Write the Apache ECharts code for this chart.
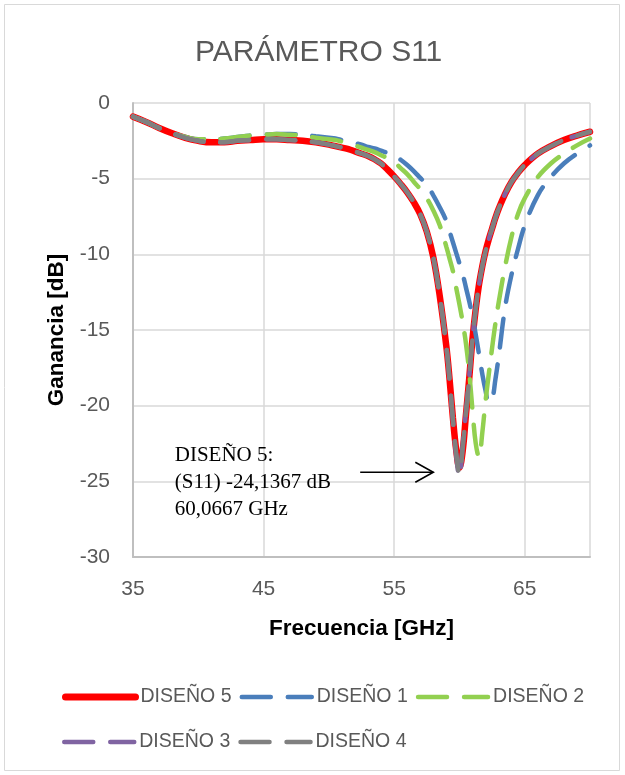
<!DOCTYPE html>
<html>
<head>
<meta charset="utf-8">
<script src="https://cdn.jsdelivr.net/npm/echarts@6/dist/echarts.min.js"></script>
<style>
  html, body { margin: 0; padding: 0; background: #fff; }
  #chart { width: 625px; height: 775px; }
</style>
</head>
<body>
<div id="chart"></div>
<script>
// frecuencias (GHz), comunes a todas las curvas
const freq = [35, 36, 37, 38, 39, 40, 41, 42, 43, 44, 45, 46, 47, 48, 49, 50,
  50.5, 51, 51.5, 52, 52.5, 53, 53.5, 54, 54.5, 55, 55.5, 56, 56.5, 57, 57.5, 58, 58.5,
  59, 59.25, 59.5, 59.75, 60, 60.25, 60.5, 60.75, 61, 61.25, 61.5, 61.75, 62, 62.25, 62.5, 62.75, 63,
  63.5, 64, 64.5, 65, 66, 67, 68, 69, 70];

// S11 [dB]
const diseno5 = [-0.9, -1.25, -1.65, -2.0, -2.3, -2.5, -2.6, -2.6, -2.5, -2.45, -2.4, -2.4, -2.45, -2.5, -2.6, -2.75,
  -2.85, -2.95, -3.05, -3.2, -3.35, -3.5, -3.72, -4.0, -4.4, -4.85, -5.35, -5.9, -6.55, -7.35, -8.5, -10.2, -12.8,
  -16.1, -18.3, -20.8, -22.9, -24.1, -23.0, -20.6, -18.2, -15.6, -13.6, -12.0, -10.8, -9.8, -9.0, -8.3, -7.6, -7.0,
  -6.0, -5.2, -4.6, -4.1, -3.35, -2.85, -2.45, -2.15, -1.9];
const diseno1 = [-0.9, -1.25, -1.65, -2.0, -2.25, -2.4, -2.4, -2.35, -2.25, -2.15, -2.1, -2.05, -2.05, -2.1, -2.2, -2.3,
  -2.35, -2.45, -2.55, -2.65, -2.75, -2.9, -3.0, -3.15, -3.3, -3.45, -3.75, -4.1, -4.5, -4.95, -5.4, -6.1, -6.9,
  -7.8, -8.5, -9.2, -9.9, -10.6, -11.3, -12.2, -13.1, -14.1, -15.3, -16.6, -17.9, -19.0, -19.8, -19.6, -18.3, -16.8,
  -13.5, -11.3, -9.6, -8.1, -6.1, -4.9, -4.0, -3.35, -2.8];
const diseno2 = [-0.9, -1.25, -1.65, -2.0, -2.25, -2.4, -2.4, -2.35, -2.25, -2.15, -2.1, -2.05, -2.1, -2.15, -2.3, -2.4,
  -2.45, -2.55, -2.65, -2.8, -2.95, -3.1, -3.25, -3.45, -3.65, -3.9, -4.3, -4.7, -5.2, -5.7, -6.3, -7.1, -8.1,
  -9.5, -10.3, -11.1, -12.2, -13.3, -14.5, -15.9, -17.8, -20.3, -22.5, -23.4, -21.8, -19.7, -17.9, -16.2, -14.6, -13.2,
  -10.8, -8.8, -7.3, -6.3, -4.9, -4.0, -3.35, -2.8, -2.35];
const diseno3 = [-0.9, -1.25, -1.65, -2.0, -2.3, -2.5, -2.6, -2.6, -2.5, -2.45, -2.4, -2.4, -2.45, -2.5, -2.6, -2.75,
  -2.85, -2.95, -3.05, -3.2, -3.35, -3.5, -3.72, -4.0, -4.4, -4.85, -5.35, -5.9, -6.55, -7.35, -8.5, -10.2, -12.8,
  -16.1, -18.4, -21.0, -23.3, -24.7, -22.6, -20.4, -18.1, -15.6, -13.6, -12.0, -10.8, -9.8, -9.0, -8.3, -7.6, -7.0,
  -6.0, -5.2, -4.6, -4.1, -3.35, -2.85, -2.45, -2.15, -1.9];
const diseno4 = [-0.9, -1.25, -1.65, -2.0, -2.3, -2.5, -2.6, -2.6, -2.5, -2.45, -2.4, -2.4, -2.45, -2.5, -2.6, -2.75,
  -2.85, -2.95, -3.05, -3.2, -3.35, -3.5, -3.72, -4.0, -4.4, -4.85, -5.35, -5.9, -6.55, -7.35, -8.5, -10.2, -12.8,
  -16.1, -18.3, -20.9, -23.1, -24.5, -22.8, -20.5, -18.2, -15.6, -13.6, -12.0, -10.8, -9.8, -9.0, -8.3, -7.6, -7.0,
  -6.0, -5.2, -4.6, -4.1, -3.35, -2.85, -2.45, -2.15, -1.9];

const nombres = ["DISEÑO 5", "DISEÑO 1", "DISEÑO 2", "DISEÑO 3", "DISEÑO 4"];
const colores = ["#ff0000", "#4a7ebb", "#92d050", "#8064a2", "#808080"];
const valores = [diseno5, diseno1, diseno2, diseno3, diseno4];

// anotacion del minimo (coordenadas en GHz / dB)
const notaTexto = "DISEÑO 5:\n(S11) -24,1367 dB\n60,0667 GHz";
const notaPos = [38.2, -22.4];
const flecha = [[52.4, -24.4], [58.0, -24.4]];

const fuente = "Liberation Sans";
const chart = echarts.init(document.getElementById("chart"));

// estilo de linea: solida para el diseño 5, guiones largos para el resto
const estiloLinea = (i) => i === 0
  ? { color: colores[i], width: 6.5, type: "solid", cap: "round" }
  : { color: colores[i], width: 4.5, type: [29, 17], cap: "round" };

const series = nombres.map((n, i) => ({
  name: n,
  type: "line",
  symbol: "none",
  smooth: 0.4,
  data: freq.map((f, k) => [f, valores[i][k]]),
  lineStyle: estiloLinea(i),
  itemStyle: { color: colores[i] },
}));

const itemLeyenda = (n) => {
  const i = nombres.indexOf(n);
  const ls = estiloLinea(i);
  return {
    name: n,
    lineStyle: { color: ls.color, width: i === 0 ? 7 : 4.5, type: ls.type, cap: "round" },
    itemStyle: { opacity: 0 },
  };
};

const legendBase = {
  left: 62,
  padding: 0,
  itemWidth: 70,
  itemHeight: 20,
  itemGap: 8,
  textStyle: { fontFamily: fuente, fontSize: 19.5, color: "#595959", lineHeight: 20 },
};

chart.setOption({
  animation: false,
  title: {
    text: "PARÁMETRO S11",
    left: 190,
    top: 33,
    textStyle: { fontFamily: fuente, fontSize: 30, fontWeight: "normal", color: "#595959" },
  },
  grid: { left: 133, right: 35, top: 103, bottom: 218 },
  legend: [
    Object.assign({}, legendBase, {
      top: 687,
      data: ["DISEÑO 5", "DISEÑO 1", "DISEÑO 2"].map(itemLeyenda),
    }),
    Object.assign({}, legendBase, {
      top: 732,
      data: ["DISEÑO 3", "DISEÑO 4"].map(itemLeyenda),
    }),
  ],
  xAxis: {
    type: "value",
    min: 35,
    max: 70,
    interval: 10,
    name: "Frecuencia [GHz]",
    nameLocation: "middle",
    nameGap: 60,
    nameTextStyle: { fontFamily: fuente, fontSize: 22.5, fontWeight: "bold", color: "#000" },
    axisLine: { onZero: false, lineStyle: { color: "#bfbfbf", width: 2 } },
    axisTick: { show: false },
    axisLabel: { fontFamily: fuente, fontSize: 21, color: "#595959", margin: 22,
      showMaxLabel: false },
    splitLine: { lineStyle: { color: "#d9d9d9", width: 1.5 } },
  },
  yAxis: {
    type: "value",
    min: -30,
    max: 0,
    interval: 5,
    name: "Ganancia [dB]",
    nameLocation: "middle",
    nameGap: 61,
    nameTextStyle: { fontFamily: fuente, fontSize: 22.5, fontWeight: "bold", color: "#000" },
    axisLine: { show: true, lineStyle: { color: "#bfbfbf", width: 2 } },
    axisTick: { show: false },
    axisLabel: { fontFamily: fuente, fontSize: 21, color: "#595959", margin: 23 },
    splitLine: { lineStyle: { color: "#d9d9d9", width: 1.5 } },
  },
  series: series,
});

// borde, texto y flecha de la anotacion
const pTxt = chart.convertToPixel({ gridIndex: 0 }, notaPos);
const a = chart.convertToPixel({ gridIndex: 0 }, flecha[0]);
const b = chart.convertToPixel({ gridIndex: 0 }, flecha[1]);
chart.setOption({
  graphic: [
    {
      type: "rect",
      shape: { x: 4.5, y: 4.5, width: 615, height: 766 },
      style: { fill: null, stroke: "#d9d9d9", lineWidth: 1 },
      silent: true,
    },
    {
      type: "text",
      x: pTxt[0],
      y: pTxt[1],
      style: {
        text: notaTexto,
        font: '21px "Liberation Serif"',
        fill: "#000",
        lineHeight: 27,
      },
    },
    {
      type: "polyline",
      shape: { points: [a, b] },
      style: { stroke: "#000", lineWidth: 1.6, fill: null },
    },
    {
      type: "polyline",
      shape: { points: [[b[0] - 18, b[1] - 10], b, [b[0] - 18, b[1] + 10]] },
      style: { stroke: "#000", lineWidth: 1.6, fill: null },
    },
  ],
});
</script>
</body>
</html>
